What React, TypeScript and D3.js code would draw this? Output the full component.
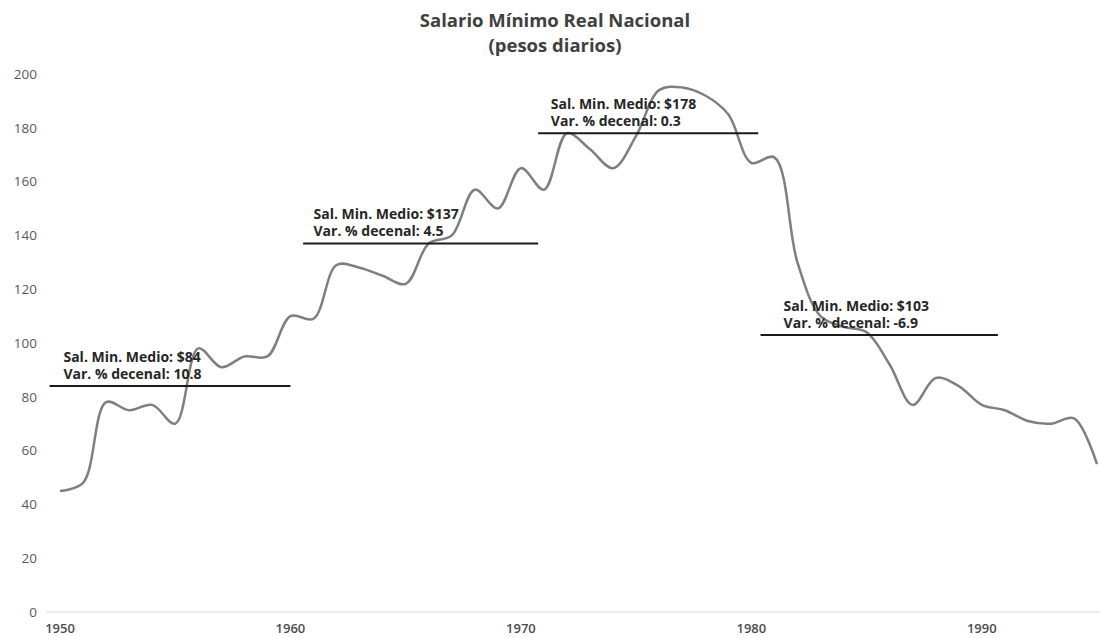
import React from "react";
import * as d3 from "d3";

// Salario mínimo real nacional, pesos diarios, 1950-1995
const years: number[] = d3.range(1950, 1996);
const salario: number[] = [
  45, 48, 78, 75, 77, 70, 98, 91, 95, 95,
  110, 109, 129, 128, 125, 122, 137, 140, 157, 150,
  165, 157, 178, 172, 165, 177, 194, 195, 192, 185,
  167, 169, 130, 110, 106, 104, 92, 77, 87, 84,
  77, 75, 71, 70, 72, 55,
];

// Decade averages drawn as horizontal reference lines
const decadeMedio: number[] = [84, 137, 178, 103];
const decadeVar: string[] = ["10.8", "4.5", "0.3", "-6.9"];
const decadeStart: number[] = [1949.55, 1960.55, 1970.75, 1980.4];
const decadeEnd: number[] = [1960.0, 1970.75, 1980.3, 1990.7];
const decadeLabelAt: number[] = [1950.15, 1961.0, 1971.3, 1981.4];

const yTicks: number[] = [0, 20, 40, 60, 80, 100, 120, 140, 160, 180, 200];
const xTicks: number[] = [1950, 1960, 1970, 1980, 1990];

const W = 1100;
const H = 638;
const FONT = "'Open Sans', 'Noto Sans', sans-serif";

export default function App() {
  const x = d3.scaleLinear().domain([1950, 1995]).range([60, 1097]);
  const y = d3.scaleLinear().domain([0, 200]).range([612, 74]);

  const line = d3
    .line<number>()
    .x((_, i) => x(years[i]))
    .y((d) => y(d))
    .curve(d3.curveCatmullRom.alpha(0.5));

  return (
    <svg
      width={W}
      height={H}
      style={{ position: "absolute", left: 0, top: 0, background: "#fff" }}
      fontFamily={FONT}
    >
      <rect width={W} height={H} fill="#fff" />
      {/* title */}
      <text x={555} y={21} dy="0.35em" textAnchor="middle" fontSize={18.5} fontWeight={700} fill="#404040">
        Salario Mínimo Real Nacional
      </text>
      <text x={555} y={46} dy="0.35em" textAnchor="middle" fontSize={18.5} fontWeight={700} fill="#404040">
        (pesos diarios)
      </text>

      {/* y axis labels */}
      {yTicks.map((t) => (
        <text
          key={t}
          x={37}
          y={y(t)}
          dy="0.35em"
          textAnchor="end"
          fontSize={13.5}
          fill="#595959"
        >
          {t}
        </text>
      ))}

      {/* x axis */}
      <line x1={46} x2={1100} y1={y(0)} y2={y(0)} stroke="#d9d9d9" strokeWidth={1} />
      {xTicks.map((t) => (
        <text
          key={t}
          x={x(t)}
          y={628}
          dy="0.35em"
          textAnchor="middle"
          fontSize={13}
          fontWeight={600}
          fill="#4d4d4d"
        >
          {t}
        </text>
      ))}

      {/* series */}
      <path d={line(salario) ?? ""} fill="none" stroke="#7f7f7f" strokeWidth={2.5} />

      {/* decade averages */}
      {decadeMedio.map((m, i) => {
        const ly = y(m);
        const tx = x(decadeLabelAt[i]);
        return (
          <g key={i}>
            <line
              x1={x(decadeStart[i])}
              x2={x(decadeEnd[i])}
              y1={ly}
              y2={ly}
              stroke="#1a1a1a"
              strokeWidth={2}
            />
            <text x={tx} y={ly - 29} dy="0.35em" fontSize={14} fontWeight={700} fill="#262626">
              {`Sal. Min. Medio: $${m}`}
            </text>
            <text x={tx} y={ly - 12} dy="0.35em" fontSize={14} fontWeight={700} fill="#262626">
              {`Var. % decenal: ${decadeVar[i]}`}
            </text>
          </g>
        );
      })}
    </svg>
  );
}
